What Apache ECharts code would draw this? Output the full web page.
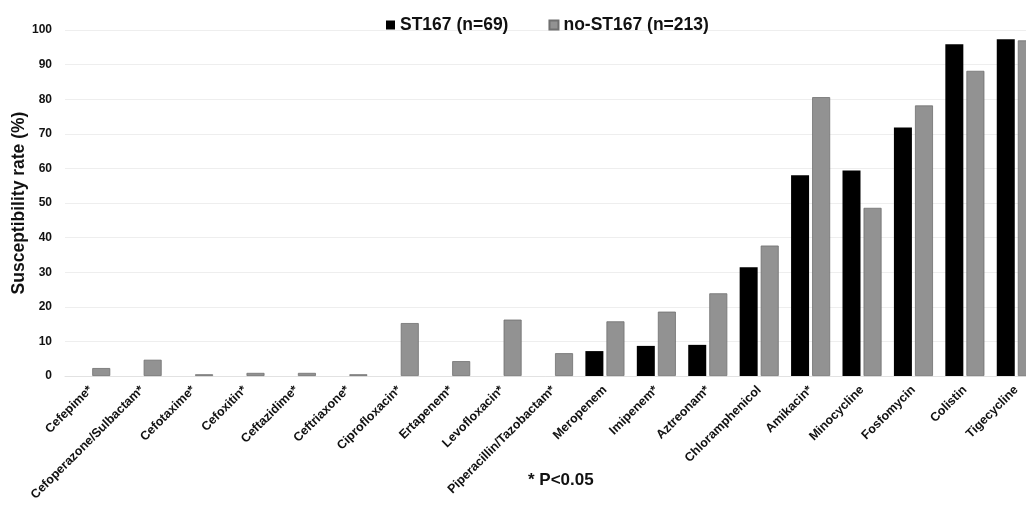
<!DOCTYPE html>
<html><head><meta charset="utf-8">
<script src="https://cdn.jsdelivr.net/npm/echarts@6/dist/echarts.min.js"></script>
<style>html,body{margin:0;padding:0;background:#fff}#c{width:1026px;height:508px}</style>
</head><body><div id="c"></div>
<script>
const categories = ["Cefepime*","Cefoperazone/Sulbactam*","Cefotaxime*","Cefoxitin*","Ceftazidime*","Ceftriaxone*","Ciprofloxacin*","Ertapenem*","Levofloxacin*","Piperacillin/Tazobactam*","Meropenem","Imipenem*","Aztreonam*","Chloramphenicol","Amikacin*","Minocycline","Fosfomycin","Colistin","Tigecycline"];
const st167 = [0,0,0,0,0,0,0,0,0,0,7.2,8.7,9.0,31.4,58.0,59.4,71.8,95.9,97.3];
const noST167 = [2.3,4.7,0.5,0.9,0.9,0.5,15.3,4.3,16.3,6.6,15.8,18.6,23.9,37.7,80.6,48.6,78.2,88.2,97.0];
const yTicks = [0,10,20,30,40,50,60,70,80,90,100];
const seriesNames = ["ST167 (n=69)","no-ST167 (n=213)"];
const footnote = "* P<0.05";

const font = "'Liberation Sans', Arial, sans-serif";
const chart = echarts.init(document.getElementById('c'), null, {renderer:'canvas'});
chart.setOption({
  animation:false,
  backgroundColor:'#fff',
  textStyle:{fontFamily:font},
  legend:{
    top:11, left:381, itemWidth:9, itemHeight:9, itemGap:40,
    textStyle:{fontFamily:font,fontWeight:'bold',fontSize:17.5,color:'#111'},
    data:seriesNames.map(n=>({name:n,icon:'rect'}))
  },
  graphic:[{type:'text',left:528,top:472,style:{text:footnote,fontFamily:font,fontWeight:'bold',fontSize:17,fill:'#111'}}],
  grid:{left:65,width:977,top:30,bottom:132,containLabel:false,outerBoundsMode:'none'},
  xAxis:{
    type:'category', data:categories,
    axisLine:{show:true,lineStyle:{color:'#e2e2e2'}},
    axisTick:{show:false},
    axisLabel:{rotate:45,interval:0,fontFamily:font,fontWeight:'bold',fontSize:12.5,color:'#111',margin:12}
  },
  yAxis:{
    type:'value', min:yTicks[0], max:yTicks[yTicks.length-1], interval:10,
    name:'Susceptibility rate (%)', nameLocation:'middle', nameGap:37, nameMoveOverlap:false,
    nameTextStyle:{fontFamily:font,fontWeight:'bold',fontSize:17.5,color:'#111'},
    axisLine:{show:false}, axisTick:{show:false},
    axisLabel:{fontFamily:font,fontWeight:'bold',fontSize:12,color:'#111',margin:13},
    splitLine:{lineStyle:{color:'#eeeeee'}}
  },
  series:[
    {name:seriesNames[0],type:'bar',data:st167,barWidth:18,barGap:'17%',
     itemStyle:{color:'#000',borderWidth:0}},
    {name:seriesNames[1],type:'bar',data:noST167,barWidth:18,
     itemStyle:{color:'#929292',borderColor:'#707070',borderWidth:0.8}}
  ]
});
</script></body></html>
